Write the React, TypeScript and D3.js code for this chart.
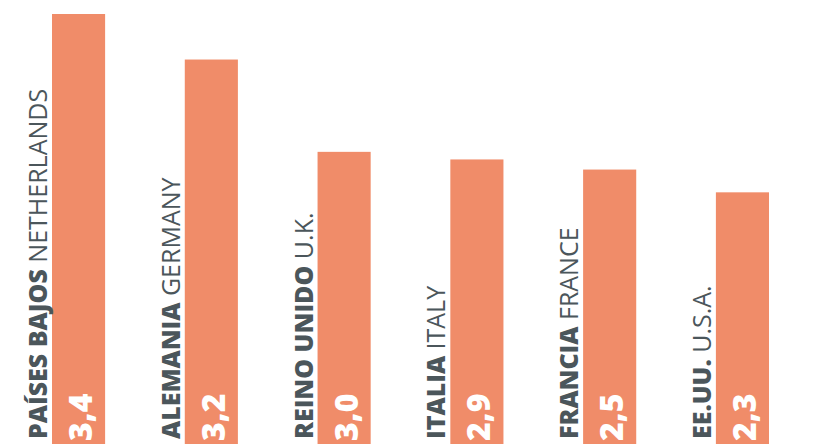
import React from "react";
import * as d3 from "d3";

const countriesEs = ["PAÍSES BAJOS", "ALEMANIA", "REINO UNIDO", "ITALIA", "FRANCIA", "EE.UU."];
const countriesEn = ["NETHERLANDS", "GERMANY", "U.K.", "ITALY", "FRANCE", "U.S.A."];
const valueLabels = ["3,4", "3,2", "3,0", "2,9", "2,5", "2,3"];
// bar lengths as drawn in the picture (not proportional to the labels)
const barValues = [3.4, 3.04, 2.31, 2.25, 2.17, 1.99];

const W = 826;
const H = 444;

export default function App() {
  const x = d3
    .scaleBand<number>()
    .domain(d3.range(countriesEs.length))
    .range([52, 769])
    .paddingInner(0.6)
    .paddingOuter(0);
  const y = d3.scaleLinear().domain([0, 3.4]).range([H, 14]);
  const barColor = "#F08C69";
  const textColor = "#4B565B";
  const font = "'Open Sans', Lato, sans-serif";

  return (
    <svg
      width={W}
      height={H}
      style={{ position: "absolute", left: 0, top: 0, background: "#fff" }}
      fontFamily={font}
    >
      {barValues.map((v, i) => {
        const bx = x(i)!;
        return (
          <g key={i}>
            <rect x={bx} y={y(v)} width={x.bandwidth()} height={H - y(v)} fill={barColor} />
            <text
              transform={`translate(${bx - 5},${439}) rotate(-90)`}
              fontSize={25}
              fill={textColor}
            >
              <tspan fontWeight={800}>{countriesEs[i]}</tspan>
              <tspan fontWeight={400}>{" " + countriesEn[i]}</tspan>
            </text>
            <text
              transform={`translate(${bx + 40},${441}) rotate(-90)`}
              fontSize={32}
              fontWeight={800}
              fill="#fff"
            >
              {valueLabels[i]}
            </text>
          </g>
        );
      })}
    </svg>
  );
}
